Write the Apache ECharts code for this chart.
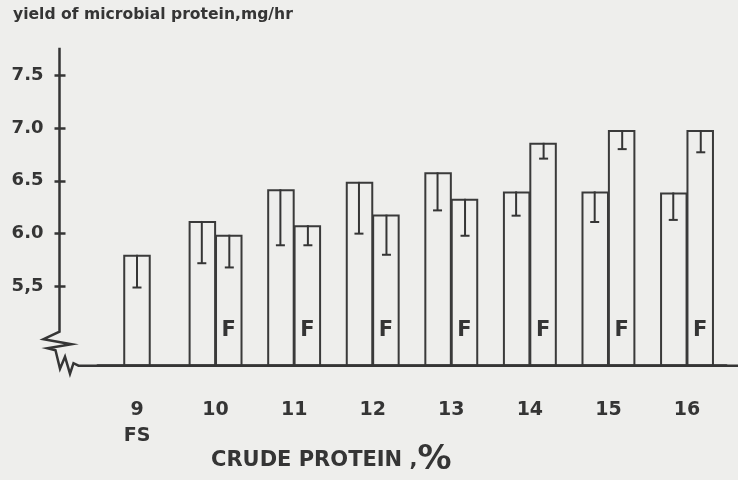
<!DOCTYPE html>
<html><head><meta charset="utf-8">
<script src="https://cdn.jsdelivr.net/npm/echarts@6/dist/echarts.min.js"></script>
<style>html,body{margin:0;padding:0;background:#eeeeec}#c{width:738px;height:480px}</style>
</head><body><div id="c"></div>
<script>
// ---- data ----
const categories = ['9\nFS', '10', '11', '12', '13', '14', '15', '16'];
const fsValues   = [5.80, null, null, null, null, null, null, null];
const fsLower    = [5.49, null, null, null, null, null, null, null];
const baseValues = [null, 6.12, 6.42, 6.49, 6.58, 6.40, 6.40, 6.39];
const baseLower  = [null, 5.72, 5.89, 6.00, 6.22, 6.17, 6.11, 6.13];
const fValues    = [null, 5.99, 6.08, 6.18, 6.33, 6.86, 6.98, 6.98];
const fLower     = [null, 5.68, 5.89, 5.80, 5.98, 6.71, 6.80, 6.77];
const yTickValues = [5.5, 6.0, 6.5, 7.0, 7.5];
const yTickLabels = ['5,5', '6.0', '6.5', '7.0', '7.5'];
const yTitle = 'yield of microbial protein,mg/hr';
const xTitle = 'CRUDE PROTEIN ,';
const fMark = 'F';

// ---- layout / style ----
const Y_MIN = 4.75, Y_MAX = 7.76;
const GRID_LEFT = 97.7, Y_OFFSET = 38.2;
const BAR_W = 27.5;
const INK = '#353535';
const FONT = 'DejaVu Sans';

const chart = echarts.init(document.getElementById('c'), null, {renderer: 'canvas'});

function errData(vals, lows) {
  const out = [];
  vals.forEach((v, i) => { if (v != null && lows[i] != null) out.push([i, v, lows[i]]); });
  return out;
}
function errSeries(vals, lows, shift) {
  return {
    type: 'custom', xAxisIndex: 0, yAxisIndex: 0, silent: true, z: 5,
    data: errData(vals, lows),
    renderItem: function (params, api) {
      const top = api.coord([api.value(0), api.value(1)]);
      const low = api.coord([api.value(0), api.value(2)]);
      const x = top[0] + shift;
      const st = {stroke: INK, lineWidth: 2};
      return {type: 'group', children: [
        {type: 'line', shape: {x1: x, y1: top[1], x2: x, y2: low[1]}, style: st},
        {type: 'line', shape: {x1: x - 4.5, y1: low[1], x2: x + 4.5, y2: low[1]}, style: st}
      ]};
    }
  };
}

const barStyle = {color: 'rgba(0,0,0,0)', borderColor: '#3a3a3a', borderWidth: 2};

chart.setOption({
  backgroundColor: '#eeeeec',
  animation: false,
  title: [
    {text: yTitle, left: 8, top: 2,
     textStyle: {fontFamily: FONT, fontWeight: 'bold', fontSize: 15.6, color: INK}},
    {text: '{a|' + xTitle + '}{p|%}', left: 206, top: 438,
     textStyle: {rich: {
       a: {fontFamily: FONT, fontWeight: 'bold', fontSize: 21, color: INK, verticalAlign: 'bottom', padding: [0, 0, 6, 0]},
       p: {fontFamily: FONT, fontSize: 34, color: INK, verticalAlign: 'bottom'}
     }}}
  ],
  grid: {left: GRID_LEFT, right: 11.7, top: 47.7, bottom: 114.3, containLabel: false},
  xAxis: [
    {type: 'category', data: categories,
     axisLine: {show: true, lineStyle: {color: INK, width: 2.5}},
     axisTick: {show: false},
     axisLabel: {fontFamily: FONT, fontWeight: 'bold', fontSize: 19, lineHeight: 26, color: INK, margin: 31}},
    {type: 'category', data: categories, show: false}
  ],
  yAxis: [
    {type: 'value', min: Y_MIN, max: Y_MAX, position: 'left', offset: Y_OFFSET,
     axisLine: {show: false},
     splitLine: {show: false},
     axisTick: {show: true, length: 5, customValues: yTickValues, lineStyle: {color: INK, width: 2.5}},
     axisLabel: {show: true, customValues: yTickValues, margin: 16,
       fontFamily: FONT, fontWeight: 'bold', fontSize: 18, color: INK, padding: [0, 0, 16, 0],
       formatter: function (v) {
         const k = yTickValues.findIndex(t => Math.abs(t - v) < 1e-6);
         return k >= 0 ? yTickLabels[k] : '';
       }}},
    {type: 'value', min: Y_MIN, max: Y_MAX, position: 'left', offset: Y_OFFSET,
     axisLine: {show: false}, splitLine: {show: false}, axisLabel: {show: false},
     axisTick: {show: true, inside: true, length: 6, customValues: yTickValues, lineStyle: {color: INK, width: 2.5}}}
  ],
  series: [
    {name: 'FS', type: 'bar', xAxisIndex: 1, yAxisIndex: 0, data: fsValues, barWidth: BAR_W, itemStyle: barStyle},
    {name: 'base', type: 'bar', xAxisIndex: 0, yAxisIndex: 0, data: baseValues, barWidth: BAR_W, barGap: '-4%', itemStyle: barStyle},
    {name: 'F', type: 'bar', xAxisIndex: 0, yAxisIndex: 0, data: fValues, barWidth: BAR_W, barGap: '-4%', itemStyle: barStyle,
     label: {show: true, position: 'insideBottom', distance: 26, formatter: fMark,
       fontFamily: FONT, fontWeight: 'bold', fontSize: 21, color: INK}},
    errSeries(fsValues, fsLower, 0),
    errSeries(baseValues, baseLower, -BAR_W / 2),
    errSeries(fValues, fLower, BAR_W / 2)
  ]
});

// axis line with break mark, tied to the y scale
const ax = GRID_LEFT - Y_OFFSET;
const yTop = chart.convertToPixel({yAxisIndex: 0}, Y_MAX);
const by = chart.convertToPixel({yAxisIndex: 0}, Y_MIN);
const pts = [
  [ax, yTop], [ax, by - 34], [ax - 16, by - 26.5], [ax + 12, by - 21.5], [ax - 12, by - 17.5],
  [ax - 4, by - 15.5], [ax + 0.5, by + 3], [ax + 5.5, by - 9], [ax + 10.5, by + 8],
  [ax + 14, by - 2.5], [ax + 19, by], [738, by]
];
chart.setOption({
  graphic: [{type: 'polyline', shape: {points: pts}, style: {stroke: INK, lineWidth: 2.5, fill: null, lineJoin: 'miter'}, z: 10}]
});
</script>
</body></html>
